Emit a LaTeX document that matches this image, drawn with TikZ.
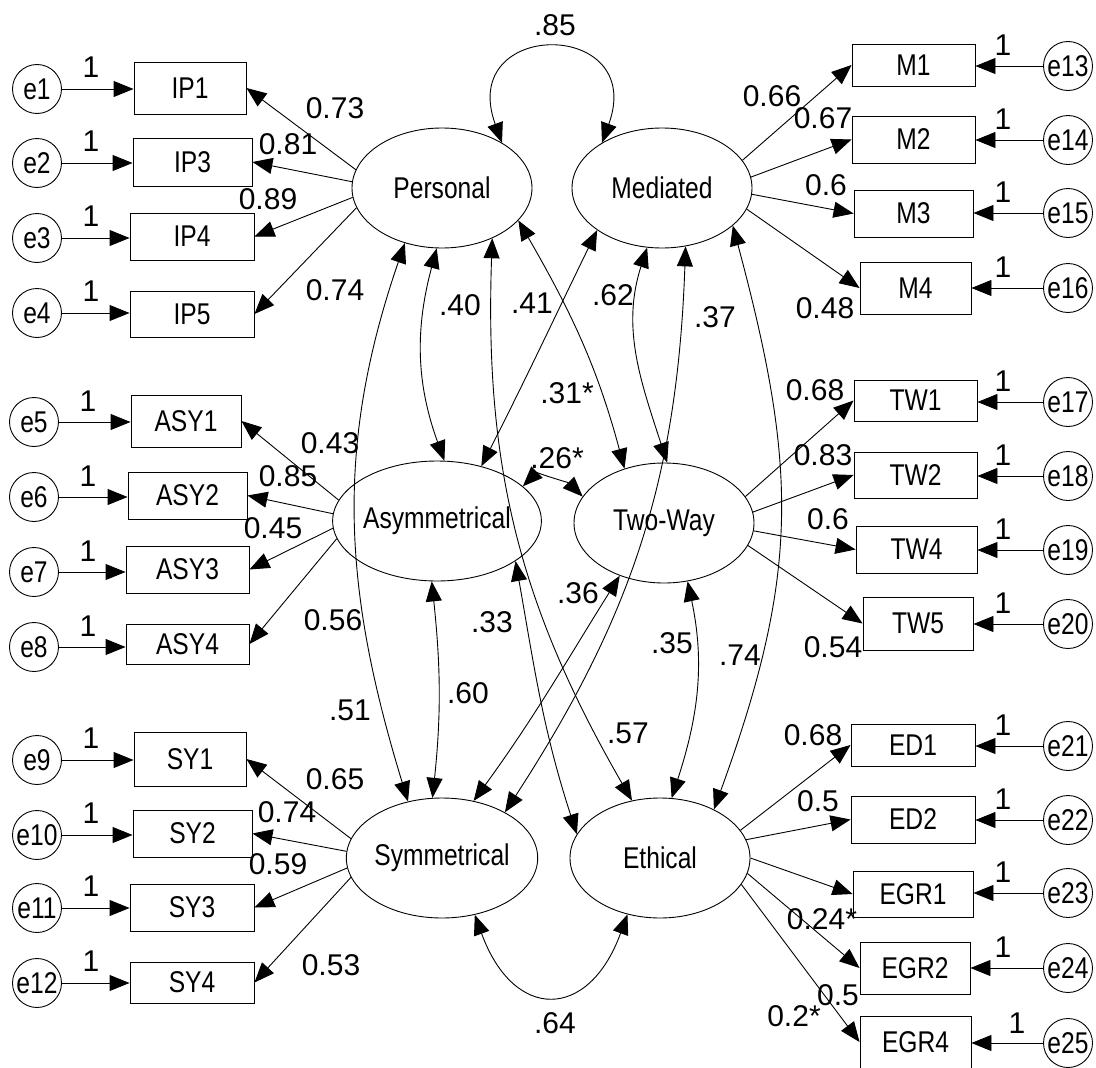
\documentclass[tikz,border=0pt]{standalone}
\usepackage{fontspec}
\setmainfont{Liberation Sans}
\newfontfamily\namefont[FakeStretch=0.82]{Liberation Sans}
\usetikzlibrary{shapes.geometric,arrows.meta}
\begin{document}
\begin{tikzpicture}[x=1pt,y=1pt,line width=0.9pt,
  font=\fontsize{30}{36}\selectfont,
  latent/.style={draw,ellipse,minimum width=180pt,minimum height=120pt,inner sep=0pt,font=\fontsize{30}{36}\selectfont\namefont},
  item/.style={draw,rectangle,inner sep=0pt,font=\fontsize{30}{36}\selectfont\namefont},
  err/.style={draw,circle,minimum size=49pt,inner sep=0pt,font=\fontsize{30}{36}\selectfont\namefont},
  num/.style={inner sep=0pt},
  pth/.style={-{Triangle[length=20pt,width=16pt]}},
  cov/.style={{Triangle[length=20pt,width=16pt]}-{Triangle[length=20pt,width=16pt]}}]
 \useasboundingbox (0,0) rectangle (1096,-1068);
 \fill[white] (0,0) rectangle (1096,-1068);
 \node[latent] (per) at (442,-188) {Personal};
 \node[latent] (med) at (662,-188) {Mediated};
 \node[latent] (asy) at (437,-521) {Asymmetrical};
 \node[latent] (two) at (664,-523) {Two-Way};
 \node[latent] (sym) at (442,-858) {Symmetrical};
 \node[latent] (eth) at (660,-858) {Ethical};
 \node[item,minimum width=112pt,minimum height=52pt] (ip1) at (190,-88) {IP1};
 \node[item,minimum width=119pt,minimum height=48pt] (ip3) at (192.5,-162) {IP3};
 \node[item,minimum width=124pt,minimum height=47pt] (ip4) at (192,-236.5) {IP4};
 \node[item,minimum width=124pt,minimum height=46pt] (ip5) at (192,-314) {IP5};
 \node[item,minimum width=110pt,minimum height=52pt] (asy1) at (186,-421) {ASY1};
 \node[item,minimum width=119pt,minimum height=47pt] (asy2) at (187.5,-495.5) {ASY2};
 \node[item,minimum width=123pt,minimum height=47pt] (asy3) at (187.5,-569.5) {ASY3};
 \node[item,minimum width=123pt,minimum height=40pt] (asy4) at (187.5,-644) {ASY4};
 \node[item,minimum width=112pt,minimum height=54pt] (sy1) at (190,-759) {SY1};
 \node[item,minimum width=119pt,minimum height=47pt] (sy2) at (192.5,-833.5) {SY2};
 \node[item,minimum width=124pt,minimum height=47pt] (sy3) at (192,-907.5) {SY3};
 \node[item,minimum width=124pt,minimum height=41pt] (sy4) at (192,-982.5) {SY4};
 \node[item,minimum width=123pt,minimum height=42pt] (m1) at (913.5,-65) {M1};
 \node[item,minimum width=123pt,minimum height=47pt] (m2) at (913.5,-139.5) {M2};
 \node[item,minimum width=119pt,minimum height=47pt] (m3) at (913.5,-213.5) {M3};
 \node[item,minimum width=111pt,minimum height=52pt] (m4) at (915.5,-288) {M4};
 \node[item,minimum width=123pt,minimum height=41pt] (tw1) at (915.5,-400.5) {TW1};
 \node[item,minimum width=123pt,minimum height=46pt] (tw2) at (915.5,-475) {TW2};
 \node[item,minimum width=121pt,minimum height=47pt] (tw4) at (916.5,-549.5) {TW4};
 \node[item,minimum width=110pt,minimum height=53pt] (tw5) at (918,-623.5) {TW5};
 \node[item,minimum width=124pt,minimum height=42pt] (ed1) at (913,-745) {ED1};
 \node[item,minimum width=124pt,minimum height=47pt] (ed2) at (913,-819.5) {ED2};
 \node[item,minimum width=120pt,minimum height=46pt] (egr1) at (913,-894) {EGR1};
 \node[item,minimum width=110pt,minimum height=52pt] (egr2) at (915,-968) {EGR2};
 \node[item,minimum width=111pt,minimum height=52pt] (egr4) at (915.5,-1042) {EGR4};
 \node[err] (e1) at (37,-89) {e1};
 \node[err] (e2) at (37,-163) {e2};
 \node[err] (e3) at (37,-238) {e3};
 \node[err] (e4) at (37,-313) {e4};
 \node[err] (e5) at (34,-422) {e5};
 \node[err] (e6) at (34,-497) {e6};
 \node[err] (e7) at (34,-572) {e7};
 \node[err] (e8) at (34,-647) {e8};
 \node[err] (e9) at (37,-760) {e9};
 \node[err] (e10) at (37,-835) {e10};
 \node[err] (e11) at (37,-908) {e11};
 \node[err] (e12) at (37,-983) {e12};
 \node[err] (e13) at (1068,-66) {e13};
 \node[err] (e14) at (1068,-140) {e14};
 \node[err] (e15) at (1068,-213) {e15};
 \node[err] (e16) at (1068,-288) {e16};
 \node[err] (e17) at (1068,-402) {e17};
 \node[err] (e18) at (1068,-476) {e18};
 \node[err] (e19) at (1068,-550) {e19};
 \node[err] (e20) at (1068,-624) {e20};
 \node[err] (e21) at (1068,-746) {e21};
 \node[err] (e22) at (1068,-820) {e22};
 \node[err] (e23) at (1068,-893) {e23};
 \node[err] (e24) at (1068,-968) {e24};
 \node[err] (e25) at (1068,-1043) {e25};
 \draw[pth] (e1) -- (e1 -| ip1.west);
 \draw[pth] (e2) -- (e2 -| ip3.west);
 \draw[pth] (e3) -- (e3 -| ip4.west);
 \draw[pth] (e4) -- (e4 -| ip5.west);
 \draw[pth] (e5) -- (e5 -| asy1.west);
 \draw[pth] (e6) -- (e6 -| asy2.west);
 \draw[pth] (e7) -- (e7 -| asy3.west);
 \draw[pth] (e8) -- (e8 -| asy4.west);
 \draw[pth] (e9) -- (e9 -| sy1.west);
 \draw[pth] (e10) -- (e10 -| sy2.west);
 \draw[pth] (e11) -- (e11 -| sy3.west);
 \draw[pth] (e12) -- (e12 -| sy4.west);
 \draw[pth] (e13) -- (e13 -| m1.east);
 \draw[pth] (e14) -- (e14 -| m2.east);
 \draw[pth] (e15) -- (e15 -| m3.east);
 \draw[pth] (e16) -- (e16 -| m4.east);
 \draw[pth] (e17) -- (e17 -| tw1.east);
 \draw[pth] (e18) -- (e18 -| tw2.east);
 \draw[pth] (e19) -- (e19 -| tw4.east);
 \draw[pth] (e20) -- (e20 -| tw5.east);
 \draw[pth] (e21) -- (e21 -| ed1.east);
 \draw[pth] (e22) -- (e22 -| ed2.east);
 \draw[pth] (e23) -- (e23 -| egr1.east);
 \draw[pth] (e24) -- (e24 -| egr2.east);
 \draw[pth] (e25) -- (e25 -| egr4.east);
 \node[num] (w1) at (91,-67) {1};
 \node[num] (w2) at (91,-141) {1};
 \node[num] (w3) at (91,-216) {1};
 \node[num] (w4) at (91,-291) {1};
 \node[num] (w5) at (88,-401) {1};
 \node[num] (w6) at (88,-476) {1};
 \node[num] (w7) at (88,-551) {1};
 \node[num] (w8) at (88,-626) {1};
 \node[num] (w9) at (91,-738) {1};
 \node[num] (w10) at (91,-813) {1};
 \node[num] (w11) at (91,-886) {1};
 \node[num] (w12) at (91,-961) {1};
 \node[num] (w13) at (1003,-45) {1};
 \node[num] (w14) at (1003,-119) {1};
 \node[num] (w15) at (1003,-192) {1};
 \node[num] (w16) at (1003,-267) {1};
 \node[num] (w17) at (1003,-381) {1};
 \node[num] (w18) at (1003,-455) {1};
 \node[num] (w19) at (1003,-529) {1};
 \node[num] (w20) at (1003,-603) {1};
 \node[num] (w21) at (1003,-725) {1};
 \node[num] (w22) at (1003,-799) {1};
 \node[num] (w23) at (1003,-872) {1};
 \node[num] (w24) at (1003,-947) {1};
 \node[num] (w25) at (1017,-1023) {1};
 \draw[pth] (per.168) -- (ip1.east);
 \draw[pth] (per.176) -- (ip3.east);
 \draw[pth] (per.186) -- (ip4.east);
 \draw[pth] (per.193) -- (ip5.east);
 \draw[pth] (asy.168) -- (asy1.east);
 \draw[pth] (asy.176) -- (asy2.east);
 \draw[pth] (asy.184) -- (asy3.east);
 \draw[pth] (asy.190) -- (asy4.east);
 \draw[pth] (sym.168) -- (sy1.east);
 \draw[pth] (sym.176) -- (sy2.east);
 \draw[pth] (sym.186) -- (sy3.east);
 \draw[pth] (sym.192) -- (sy4.east);
 \draw[pth] (med.19) -- (m1.west);
 \draw[pth] (med.7) -- (m2.west);
 \draw[pth] (med.356) -- (m3.west);
 \draw[pth] (med.346) -- (m4.west);
 \draw[pth] (two.18) -- (tw1.west);
 \draw[pth] (two.7) -- (tw2.west);
 \draw[pth] (two.355) -- (tw4.west);
 \draw[pth] (two.345) -- (tw5.west);
 \draw[pth] (eth.19) -- (ed1.west);
 \draw[pth] (eth.12) -- (ed2.west);
 \draw[pth] (eth.0) -- (egr1.west);
 \draw[pth] (eth.350) -- (egr2.west);
 \draw[pth] (eth.342) -- (egr4.west);
 \node[num] (lip1) at (335,-108) {0.73};
 \node[num] (lip3) at (288,-144) {0.81};
 \node[num] (lip4) at (268,-199) {0.89};
 \node[num] (lip5) at (335,-290) {0.74};
 \node[num] (lasy1) at (330,-443) {0.43};
 \node[num] (lasy2) at (288,-476) {0.85};
 \node[num] (lasy3) at (273,-528) {0.45};
 \node[num] (lasy4) at (333,-620) {0.56};
 \node[num] (lsy1) at (335,-779) {0.65};
 \node[num] (lsy2) at (287,-812) {0.74};
 \node[num] (lsy3) at (278,-864) {0.59};
 \node[num] (lsy4) at (331,-965) {0.53};
 \node[num] (lm1) at (772,-96) {0.66};
 \node[num] (lm2) at (823,-118) {0.67};
 \node[num] (lm3) at (826,-185) {0.6};
 \node[num] (lm4) at (825,-308) {0.48};
 \node[num] (ltw1) at (815,-390) {0.68};
 \node[num] (ltw2) at (823,-455) {0.83};
 \node[num] (ltw4) at (828,-519) {0.6};
 \node[num] (ltw5) at (833,-647) {0.54};
 \node[num] (led1) at (813,-735) {0.68};
 \node[num] (led2) at (818,-801) {0.5};
 \node[num] (legr1) at (822,-919) {0.24*};
 \node[num] (legr2) at (838,-995) {0.5};
 \node[num] (legr4) at (794,-1016) {0.2*};
 \draw[cov] (per.37) to[out=110,in=70,looseness=3.4] (med.143);
 \draw[cov] (per.265) to[out=255,in=110] (asy.83);
 \draw[cov] (per.236) to[out=251,in=107] (sym.121);
 \draw[cov] (per.315) to[out=268,in=120] (eth.116);
 \draw[cov] (per.337) to[out=300,in=105] (two.126);
 \draw[cov] (med.213) to[out=244,in=63] (asy.51);
 \draw[cov] (med.256) to[out=252,in=108] (two.87);
 \draw[cov] (med.292) to[out=268,in=57] (sym.36);
 \draw[cov] (med.332) to[out=285,in=70,looseness=1.1] (eth.42);
 \draw[cov] (asy.22) to[out=45,in=135,looseness=0.8] (two.162);
 \draw[cov] (asy.265) to[out=276,in=84] (sym.99);
 \draw[cov] (asy.333) to[out=280,in=108] (eth.164);
 \draw[cov] (two.230) to[out=238,in=54] (sym.61);
 \draw[cov] (two.292) to[out=282,in=72] (eth.79);
 \draw[cov] (sym.300) to[out=-70,in=-110,looseness=1.9] (eth.240);
 \node[num] (cpm) at (555,-25) {.85};
 \node[num] (cpa) at (460,-305) {.40};
 \node[num] (cpt) at (532,-303) {.41};
 \node[num] (cmt) at (613,-295) {.62};
 \node[num] (cms) at (715,-317) {.37};
 \node[num] (cma) at (567,-393) {.31*};
 \node[num] (cat) at (557,-458) {.26*};
 \node[num] (cts) at (578,-593) {.36};
 \node[num] (cae) at (492,-622) {.33};
 \node[num] (cte) at (672,-643) {.35};
 \node[num] (cme) at (740,-655) {.74};
 \node[num] (cps) at (350,-710) {.51};
 \node[num] (cas) at (468,-693) {.60};
 \node[num] (cpe) at (628,-733) {.57};
 \node[num] (cse) at (555,-1023) {.64};
\end{tikzpicture}
\end{document}
